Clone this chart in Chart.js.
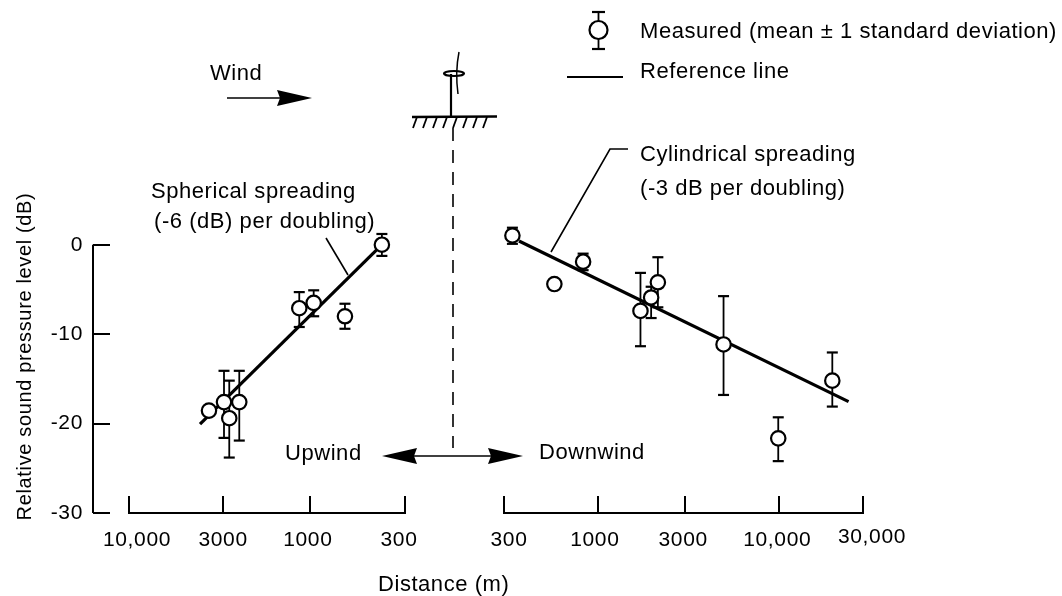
<!DOCTYPE html>
<html>
<head>
<meta charset="utf-8">
<title>Relative sound pressure level</title>
<script src="https://cdn.jsdelivr.net/npm/chart.js@4/dist/chart.umd.min.js"></script>
<style>
    html, body { margin: 0; padding: 0; background: #fff; }
    canvas { display: block; }
</style>
</head>
<body>
<canvas id="chart-noise" width="1062" height="596"></canvas>
<script>
// upwind readings
const upDistance = [3675, 3045, 2851, 2515, 1187, 991, 670, 422];
const upLevel = [-18.55, -17.6, -19.4, -17.6, -7.1, -6.5, -8.0, 0.0];
const upHigh = [null, -14.1, -15.2, -14.1, -5.3, -5.1, -6.6, 1.2];
const upLow = [null, -21.6, -23.8, -21.9, -9.2, -8.0, -9.4, -1.25];
const upLineDistance = [4112, 427];
const upLineLevel = [-20.05, -0.1];

// downwind readings
const downDistance = [352, 603, 872, 1820, 2087, 2275, 5284, 10660, 21330];
const downLevel = [1.03, -4.4, -1.9, -7.4, -5.9, -4.2, -11.15, -21.65, -15.2];
const downHigh = [1.9, null, -1.0, -3.15, -4.7, -1.4, -5.75, -19.3, -12.05];
const downLow = [0.1, null, -2.85, -11.35, -8.2, -7.0, -16.8, -24.2, -18.1];
const downLineDistance = [383, 26280];
const downLineLevel = [0.42, -17.55];

// axes
const levelTicks = [0, -10, -20, -30];
const upTicks = [10000, 3080, 1040, 316];
const upLabels = ['10,000', '3000', '1000', '300'];
const downTicks = [316, 1053, 3228, 10800, 31623];
const downLabels = ['300', '1000', '3000', '10,000', '30,000'];

// label shift against the tick, the labels are not centred on the original
const upNudge = [8, 0, -2, -6];
const downNudge = [5, -3, -2, -2, 9];

const FONT = '"Liberation Sans", Arial, sans-serif';
const INK = '#000';

function points(xs, ys) {
    return xs.map(function (x, i) { return { x: x, y: ys[i] }; });
}

function line(ctx, x1, y1, x2, y2, width) {
    ctx.lineWidth = width;
    ctx.beginPath();
    ctx.moveTo(x1, y1);
    ctx.lineTo(x2, y2);
    ctx.stroke();
}

function barbedHead(ctx, tip, y, barb, wing) {
    ctx.beginPath();
    ctx.moveTo(tip, y);
    ctx.lineTo(wing, y - 8);
    ctx.lineTo(barb, y);
    ctx.lineTo(wing, y + 8);
    ctx.closePath();
    ctx.fill();
}

function errorBars(chart, xScale, xs, highs, lows) {
    const ctx = chart.ctx;
    const yScale = chart.scales.y;
    xs.forEach(function (d, i) {
        if (highs[i] === null) return;
        const x = xScale.getPixelForValue(d);
        const top = yScale.getPixelForValue(highs[i]);
        const bottom = yScale.getPixelForValue(lows[i]);
        line(ctx, x, top, x, bottom, 1.8);
        line(ctx, x - 5.5, top, x + 5.5, top, 2.2);
        line(ctx, x - 5.5, bottom, x + 5.5, bottom, 2.2);
    });
}

// the two distance axes share one chart, each only gets its own stretch of it
const splitAxes = {
    id: 'splitAxes',
    afterLayout: function (chart) {
        const up = chart.scales.xUp;
        const down = chart.scales.xDown;
        up.left = 129; up.right = 405; up.width = 276;
        down.left = 504; down.right = 863; down.width = 359;
        up.configure();
        down.configure();
    },
    beforeDraw: function (chart) {
        chart.ctx.letterSpacing = '0.65px';
        if (chart.$nudged) return;
        chart.$nudged = true;
        chart.scales.xUp.getLabelItems().forEach(function (item, i) {
            item.options.translation[0] += upNudge[i];
        });
        chart.scales.xDown.getLabelItems().forEach(function (item, i) {
            item.options.translation[0] += downNudge[i];
            if (i === downNudge.length - 1) item.options.translation[1] -= 3;
        });
    }
};

const whiskers = {
    id: 'whiskers',
    beforeDatasetsDraw: function (chart) {
        const ctx = chart.ctx;
        ctx.save();
        ctx.strokeStyle = INK;
        errorBars(chart, chart.scales.xUp, upDistance, upHigh, upLow);
        errorBars(chart, chart.scales.xDown, downDistance, downHigh, downLow);
        ctx.restore();
    }
};

const sketch = {
    id: 'sketch',
    afterDraw: function (chart) {
        const ctx = chart.ctx;
        const y = chart.scales.y;
        ctx.save();
        ctx.strokeStyle = INK;
        ctx.fillStyle = INK;
        ctx.lineCap = 'butt';

        // level axis line, stops at 0 while the scale carries on above it
        line(ctx, 93, y.getPixelForValue(0), 93, y.getPixelForValue(-30), 2);

        // leaders
        line(ctx, 326, 238, 348, 275, 1.6);
        ctx.lineWidth = 1.6;
        ctx.beginPath();
        ctx.moveTo(551, 252);
        ctx.lineTo(610, 149);
        ctx.lineTo(628, 149);
        ctx.stroke();

        // wind arrow
        line(ctx, 227, 98, 285, 98, 1.4);
        barbedHead(ctx, 312, 98, 280, 277);

        // turbine
        line(ctx, 451, 74, 451, 117, 2.2);
        ctx.lineWidth = 2.2;
        ctx.beginPath();
        ctx.ellipse(454, 73.5, 10, 2.5, 0, 0, Math.PI * 2);
        ctx.stroke();
        ctx.lineWidth = 1.5;
        ctx.beginPath();
        ctx.moveTo(459, 52);
        ctx.quadraticCurveTo(455, 72, 458, 94);
        ctx.stroke();
        line(ctx, 412, 117, 497, 116.5, 2.4);
        for (let gx = 417; gx <= 495; gx += 10) {
            line(ctx, gx, 117, gx - 4, 128, 1.8);
        }

        // dashed centre line
        ctx.setLineDash([13, 9]);
        line(ctx, 453, 128, 453, 448, 1.6);
        ctx.setLineDash([]);

        // upwind / downwind arrow
        line(ctx, 405, 456, 500, 456, 1.4);
        barbedHead(ctx, 382, 456, 414, 417);
        barbedHead(ctx, 523, 456, 491, 488);

        // legend
        line(ctx, 598.5, 12, 598.5, 49, 1.8);
        line(ctx, 592, 12, 605, 12, 2.2);
        line(ctx, 592, 49, 605, 49, 2.2);
        ctx.fillStyle = '#fff';
        ctx.lineWidth = 2.2;
        ctx.beginPath();
        ctx.arc(598.5, 30, 9, 0, Math.PI * 2);
        ctx.fill();
        ctx.stroke();
        ctx.fillStyle = INK;
        line(ctx, 567, 77, 623, 77, 2.2);

        // notes
        ctx.font = '22px ' + FONT;
        ctx.letterSpacing = '0.55px';
        ctx.textAlign = 'left';
        ctx.textBaseline = 'alphabetic';
        ctx.fillText('Wind', 210, 80);
        ctx.fillText('Measured (mean \u00b1 1 standard deviation)', 640, 38);
        ctx.fillText('Reference line', 640, 78);
        ctx.fillText('Spherical spreading', 151, 198);
        ctx.fillText('(-6 (dB) per doubling)', 154, 228);
        ctx.fillText('Cylindrical spreading', 640, 161);
        ctx.fillText('(-3 dB per doubling)', 640, 195);
        ctx.fillText('Upwind', 285, 460);
        ctx.fillText('Downwind', 539, 459);
        ctx.fillText('Distance (m)', 378, 591);
        ctx.restore();
    }
};

function distanceAxis(values, labels, reverse) {
    return {
        type: 'logarithmic',
        reverse: reverse,
        position: { y: -30 },
        min: 316,
        max: values === upTicks ? 10000 : 31623,
        afterBuildTicks: function (scale) {
            scale.ticks = values.map(function (v) { return { value: v }; });
        },
        border: { display: true, color: INK, width: 2 },
        grid: { drawOnChartArea: false, drawTicks: true, tickLength: -18, color: INK, lineWidth: 2 },
        ticks: {
            autoSkip: false,
            maxRotation: 0,
            padding: 33,
            color: INK,
            font: { family: FONT, size: 21 },
            callback: function (value, index) { return labels[index]; }
        }
    };
}

var ctx = document.getElementById('chart-noise').getContext('2d');

new Chart(ctx, {
    type: 'scatter',
    data: {
        datasets: [{
            label: 'Spherical spreading',
            xAxisID: 'xUp',
            data: points(upLineDistance, upLineLevel),
            showLine: true,
            pointRadius: 0,
            borderColor: INK,
            borderWidth: 3.2,
            order: 2
        }, {
            label: 'Cylindrical spreading',
            xAxisID: 'xDown',
            data: points(downLineDistance, downLineLevel),
            showLine: true,
            pointRadius: 0,
            borderColor: INK,
            borderWidth: 3.2,
            order: 2
        }, {
            label: 'Measured upwind',
            xAxisID: 'xUp',
            data: points(upDistance, upLevel),
            pointRadius: 7.2,
            pointBackgroundColor: '#fff',
            pointBorderColor: INK,
            pointBorderWidth: 2.2,
            clip: false,
            order: 1
        }, {
            label: 'Measured downwind',
            xAxisID: 'xDown',
            data: points(downDistance, downLevel),
            pointRadius: 7.2,
            pointBackgroundColor: '#fff',
            pointBorderColor: INK,
            pointBorderWidth: 2.2,
            clip: false,
            order: 1
        }]
    },
    options: {
        responsive: false,
        animation: false,
        layout: { padding: { top: 200, bottom: 83, right: 182, left: 0 } },
        plugins: {
            legend: { display: false },
            tooltip: { enabled: false }
        },
        scales: {
            y: {
                position: 'left',
                min: -30,
                max: 5,
                afterBuildTicks: function (scale) {
                    scale.ticks = levelTicks.map(function (v) { return { value: v }; });
                },
                afterFit: function (scale) { scale.width = 93; },
                border: { display: false },
                grid: { drawOnChartArea: false, drawTicks: true, tickLength: -17, color: INK, lineWidth: 2 },
                ticks: { padding: 27, color: INK, font: { family: FONT, size: 21 } },
                title: {
                    display: true,
                    text: 'Relative sound pressure level (dB)',
                    color: INK,
                    font: { family: FONT, size: 20 },
                    padding: { top: 13, bottom: 0 }
                }
            },
            xUp: distanceAxis(upTicks, upLabels, true),
            xDown: distanceAxis(downTicks, downLabels, false)
        }
    },
    plugins: [splitAxes, whiskers, sketch]
});
</script>
</body>
</html>
